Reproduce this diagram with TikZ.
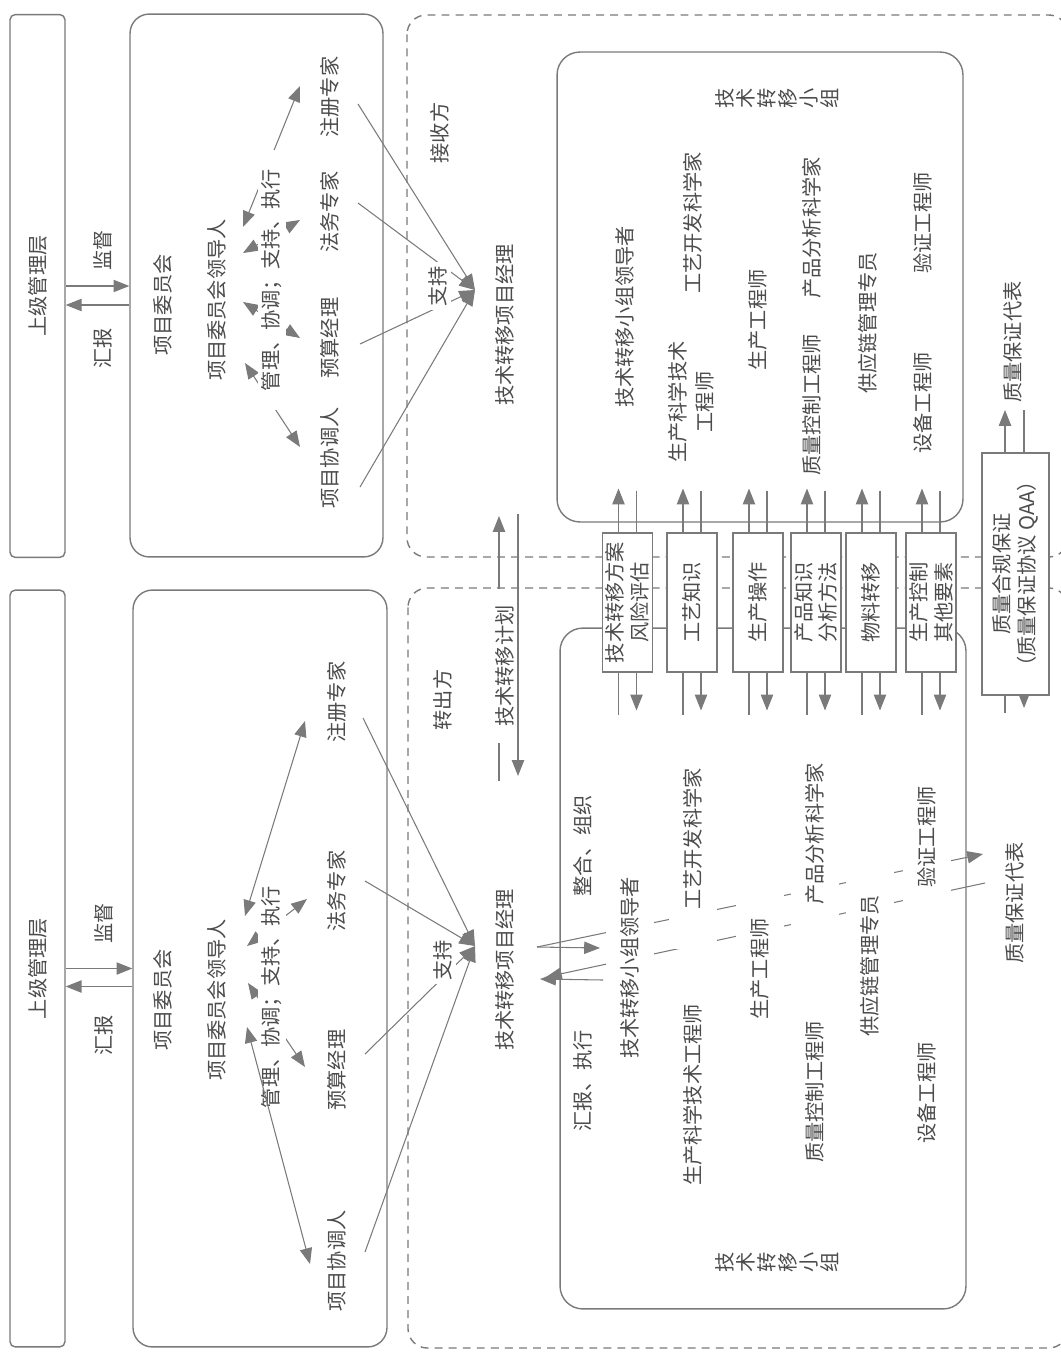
\documentclass[tikz,border=0pt]{standalone}
\usepackage{fontspec}
\setmainfont{Noto Sans CJK SC}
\usetikzlibrary{arrows.meta,calc,backgrounds}
\definecolor{ink}{gray}{0.3}
\definecolor{rule}{gray}{0.48}

\tikzset{
  vtext/.style={rotate=90, inner sep=2pt, fill=white},
  member/.style={vtext, minimum width=4.4cm, minimum height=0.96cm, inner sep=0pt},
  arr/.style={draw=rule, line width=0.6pt, -{Triangle[length=9pt,width=7pt]}},
  darr/.style={draw=rule, line width=0.6pt, {Triangle[length=9pt,width=7pt]}-{Triangle[length=9pt,width=7pt]}},
  mgmtbox/.style={draw=rule, line width=0.8pt, rounded corners=3pt, rotate=90, minimum height=1.1cm},
  panel/.style={draw=rule, line width=0.8pt, rounded corners=11pt},
  sidebox/.style={draw=rule, line width=0.8pt, dash pattern=on 4.5pt off 3.5pt, rounded corners=11pt},
  xferbox/.style={draw=rule, line width=0.7pt, fill=white, rotate=90, align=center,
    minimum width=2.78cm, minimum height=1cm, inner sep=1pt, font=\fontsize{11.5}{14}\selectfont},
}

\begin{document}
\begin{tikzpicture}[x=0.02cm, y=-0.02cm,
  every node/.append style={text=ink, font=\fontsize{11.5}{13}\selectfont}]
    \useasboundingbox (0,0) rectangle (1061,1355);
    \clip (0,0) rectangle (1061,1355);

    % Upper management and committee frames
    \node[mgmtbox, minimum width=10.86cm] (mgmt1) at (37.5,286) {上级管理层};
    \node[mgmtbox, minimum width=15.14cm] (mgmt2) at (37.5,968.5) {上级管理层};
    \node[panel, minimum width=5.06cm, minimum height=10.86cm] (com1box) at (256.5,285.5) {};
    \node[panel, minimum width=5.08cm, minimum height=15.14cm] (com2box) at (260,968.5) {};

    % Team frames and the two sides
    \node[panel, rounded corners=13pt, minimum width=8.12cm, minimum height=9.4cm] (team1box) at (760,287) {};
    \node[panel, rounded corners=13pt, minimum width=8.12cm, minimum height=13.62cm] (team2box) at (763,968.5) {};
    \draw[sidebox] (407,15) rectangle (1068,557);
    \draw[sidebox] (408,588) rectangle (1068,1348);

    % Receiving side (upper half)
    \node[vtext] (watch1) at (103,250) {监督};
    \node[vtext] (report1) at (103,348) {汇报};
    \node[vtext] (com1) at (163,305) {项目委员会};
    \node[vtext] (lead1) at (217,300) {项目委员会领导人};
    \node[vtext, minimum width=5.2cm] (duty1) at (272,280) {管理、协调；支持、执行};
    \node[vtext] (reg1) at (330,97) {注册专家};
    \node[vtext] (law1) at (330,212) {法务专家};
    \node[vtext] (bud1) at (330,338) {预算经理};
    \node[vtext] (coord1) at (330,458) {项目协调人};
    \node[vtext] (recv) at (440,133) {接收方};
    \node[vtext] (sup1) at (438,286) {支持};
    \node[vtext] (pm1) at (505,325) {技术转移项目经理};
    \node[vtext] (tlead1) at (625,317) {技术转移小组领导者};
    \node[vtext] (procdev1) at (693,223) {工艺开发科学家};
    \node[vtext, align=center, font=\fontsize{11.5}{15.5}\selectfont] (msat1) at (691,402) {生产科学技术\\工程师};
    \node[vtext] (prod1) at (758,320) {生产工程师};
    \node[vtext] (anal1) at (812,228) {产品分析科学家};
    \node[vtext] (qc1) at (812,405) {质量控制工程师};
    \node[vtext] (scm1) at (868,323) {供应链管理专员};
    \node[vtext] (val1) at (923,223) {验证工程师};
    \node[vtext] (equip1) at (923,403) {设备工程师};
    \node[vtext, align=center, font=\fontsize{11.5}{12}\selectfont] (team1) at (777,98) {技\\术\\转\\移\\小\\组};
    \node[vtext] (qarep1) at (1013,342) {质量保证代表};

    % Transferring side (lower half)
    \node[vtext] (watch2) at (104,923) {监督};
    \node[vtext] (report2) at (104,1035) {汇报};
    \node[vtext] (com2) at (163,1000) {项目委员会};
    \node[vtext] (lead2) at (217,1000) {项目委员会领导人};
    \node[vtext] (duty2) at (272,997) {管理、协调；支持、执行};
    \node[vtext] (reg2) at (337,702) {注册专家};
    \node[vtext] (law2) at (337,891) {法务专家};
    \node[vtext] (bud2) at (337,1070) {预算经理};
    \node[vtext] (coord2) at (337,1261) {项目协调人};
    \node[vtext] (send) at (443,700) {转出方};
    \node[vtext] (sup2) at (443,960) {支持};
    \node[vtext] (pm2) at (505,970) {技术转移项目经理};
    \node[vtext, inner xsep=0.32cm, inner ysep=0.5pt] (plan) at (505,666) {技术转移计划};
    \node[vtext] (integ2) at (583,846) {整合、组织};
    \node[vtext] (exec2) at (583,1081) {汇报、执行};
    \node[member] (tlead2) at (630,968) {技术转移小组领导者};
    \node[member] (procdev2) at (693,839) {工艺开发科学家};
    \node[member] (msat2) at (693,1095) {生产科学技术工程师};
    \node[member] (prod2) at (760,969) {生产工程师};
    \node[member] (anal2) at (815,834) {产品分析科学家};
    \node[member] (qc2) at (815,1092) {质量控制工程师};
    \node[member] (scm2) at (870,966) {供应链管理专员};
    \node[member] (val2) at (927,837) {验证工程师};
    \node[member] (equip2) at (927,1093) {设备工程师};
    \node[vtext, align=center, font=\fontsize{11.5}{12}\selectfont] (team2) at (777,1262) {技\\术\\转\\移\\小\\组};
    \node[vtext] (qarep2) at (1015,903) {质量保证代表};

    % Transfer items
    \node[xferbox] (tb1) at (627.5,602.5) {技术转移方案\\风险评估};
    \node[xferbox] (tb2) at (692,602.5) {工艺知识};
    \node[xferbox] (tb3) at (758,602.5) {生产操作};
    \node[xferbox] (tb4) at (816,602.5) {产品知识\\分析方法};
    \node[xferbox] (tb5) at (871,602.5) {物料转移};
    \node[xferbox] (tb6) at (931,602.5) {生产控制\\其他要素};
    \node[xferbox, minimum width=4.84cm, minimum height=1.34cm] (qa) at (1015.5,574) {质量合规保证\\（质量保证协议 QAA）};

    % Long arrows in the lower committee
    \draw[darr] ($(lead2)+(28,-84)$) -- ($(reg2)+(-32,19)$);
    \draw[darr] ($(lead2)+(30,27)$) -- ($(coord2)+(-27,3)$);

    \begin{scope}[on background layer]
    % Reporting between management and committee
    \draw[arr] (mgmt1.south) -- (com1box.west |- mgmt1.south);
    \draw[arr] ($(com1box.west |- mgmt1.south)+(0,19)$) -- ($(mgmt1.south)+(0,19)$);
    \draw[arr] (mgmt2.south) -- (com2box.west |- mgmt2.south);
    \draw[arr] ($(com2box.west |- mgmt2.south)+(0,18)$) -- ($(mgmt2.south)+(0,18)$);

    % Leader to members
    \draw[darr] ($(lead1)+(26,-73)$) -- ($(reg1)+(-30,-11)$);
    \draw[darr] ($(lead1)+(26,-47)$) -- ($(law1)+(-30,8)$);
    \draw[darr] ($(lead1)+(26,2)$) -- ($(bud1)+(-30,0)$);
    \draw[darr] ($(lead1)+(28,63)$) -- ($(coord1)+(-30,-11)$);
    \draw[darr] ($(lead2)+(30,-54)$) -- ($(law2)+(-30,8)$);
    \draw[darr] ($(lead2)+(31,-17)$) -- ($(bud2)+(-32,-3)$);

    % Support to the project managers
    \coordinate (hub1) at ($(pm1)+(-30,-35)$);
    \coordinate (hub2) at ($(pm2)+(-30,-24)$);
    \foreach \m/\mx/\my in {reg1/28/7, law1/28/-9, bud1/30/6, coord1/30/29}
        \draw[arr] ($(\m)+(\mx,\my)$) -- (hub1);
    \foreach \m/\mx/\my in {reg2/26/16, law2/28/-10, bud2/28/-16, coord2/28/-9}
        \draw[arr] ($(\m)+(\mx,\my)$) -- (hub2);

    % Transfer plan
    \draw[arr] ($(pm2)+(-6,-189)$) -- ($(pm1)+(-6,191)$);
    \draw[arr] ($(pm1)+(13,189)$) -- ($(pm2)+(13,-194)$);

    % Lines through the transfer items
    \foreach \b in {tb1,tb2,tb3,tb4,tb5,tb6} {
        \draw[arr] ($(\b)+(-9,112)$) -- ($(\b)+(-9,-114)$);
        \draw[arr] ($(\b)+(9,-112)$) -- ($(\b)+(9,108)$);
    }
    \draw[arr] ($(qa)+(-10.5,139)$) -- ($(qa)+(-10.5,-164)$);
    \draw[arr] ($(qa)+(8.5,-164)$) -- ($(qa)+(8.5,134)$);

    % Project manager to team leader and QA
    \coordinate (pmout) at ($(pm2)+(32,-23)$);
    \coordinate (pmin) at ($(pm2)+(35,9)$);
    \draw[arr] (pmout) -- ($(tlead2)+(-30,-20)$);
    \draw[arr] ($(tlead2)+(-27,12)$) -- (pmin);
    \draw[arr] (pmout) -- ($(qarep2)+(-32,-49)$);
    \draw[arr] ($(qarep2)+(-30,-20)$) -- ($(pm2)+(41,7)$);
    \end{scope}
\end{tikzpicture}
\end{document}
